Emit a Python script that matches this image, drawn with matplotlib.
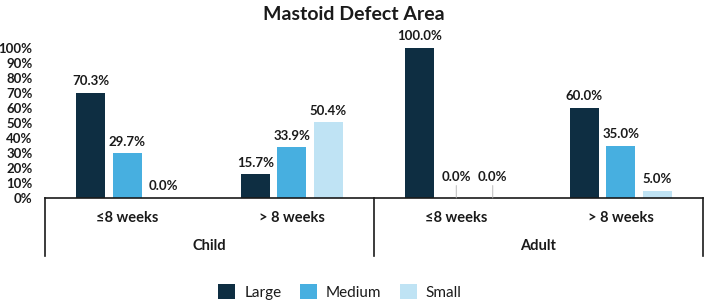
import matplotlib
matplotlib.use("Agg")
import matplotlib.pyplot as plt
import matplotlib.transforms as mtransforms
import numpy as np

plt.rcParams['font.family'] = ['Lato', 'DejaVu Sans']

groups = ["Child", "Adult"]
periods = ["≤8 weeks", "> 8 weeks"]
series = ["Large", "Medium", "Small"]
large = [70.3, 15.7, 100.0, 60.0]
medium = [29.7, 33.9, 0.0, 35.0]
small = [0.0, 50.4, 0.0, 5.0]
yticks = [0, 10, 20, 30, 40, 50, 60, 70, 80, 90, 100]
colors = ["#0e2e42", "#47afe0", "#bfe3f4"]

W, H = 708, 304
fig = plt.figure(figsize=(W / 100, H / 100), dpi=100)
ax = fig.add_axes([45 / W, 1 - 198 / H, (703 - 45) / W, 150 / H])

x = np.arange(len(large))
step = 0.222
bw = 0.175
data = [large, medium, small]
for i, (vals, c, name) in enumerate(zip(data, colors, series)):
    xs = x + (i - 1) * step
    ax.bar(xs, vals, width=bw, color=c, label=name, zorder=2)
    for j, (xx, v) in enumerate(zip(xs, vals)):
        lead = (v == 0 and j == 2)
        if lead:
            ax.annotate(f"{v:.1f}%", xy=(xx, 0), xytext=(0, 11), textcoords="offset points",
                        ha="center", va="bottom", fontsize=9.5, fontweight="bold", color="#1a1a1a",
                        arrowprops=dict(arrowstyle="-", color="#b0b0b0", lw=0.6, shrinkA=0, shrinkB=0))
        else:
            ax.annotate(f"{v:.1f}%", xy=(xx, v), xytext=(0, 4), textcoords="offset points",
                        ha="center", va="bottom", fontsize=9.5, fontweight="bold", color="#1a1a1a")

ax.set_xlim(-0.5, len(large) - 0.5)
ax.set_ylim(0, 100)
ax.set_yticks(yticks)
ax.set_yticklabels([f"{t}%" for t in yticks], fontsize=9.5, fontweight="bold", color="#1a1a1a")
ax.tick_params(axis="y", length=0, pad=9)
ax.set_xticks([])
for s in ["top", "right", "left"]:
    ax.spines[s].set_visible(False)
ax.spines["bottom"].set_color("#1a1a1a")
ax.spines["bottom"].set_linewidth(1.2)

trans = mtransforms.blended_transform_factory(ax.transData, ax.transAxes)
lab_y = -20 / 150
grp_y = -48 / 150
line_y = -58 / 150
for j in range(len(large)):
    ax.text(j, lab_y, periods[j % 2], transform=trans, ha="center", va="center",
            fontsize=10.5, fontweight="bold", color="#1a1a1a")
for g, name in enumerate(groups):
    ax.text(2 * g + 0.5, grp_y, name, transform=trans, ha="center", va="center",
            fontsize=10.5, fontweight="bold", color="#1a1a1a")
for xb in [-0.5, 1.5, 3.5]:
    ax.plot([xb, xb], [0, line_y], transform=trans, color="#1a1a1a", lw=1.2, clip_on=False)

fig.text(354 / W, 1 - 14 / H, "Mastoid Defect Area", ha="center", va="center",
         fontsize=14, fontweight="bold", color="#1a1a1a")

handles, labels = ax.get_legend_handles_labels()
fig.legend(handles, labels, loc="center", bbox_to_anchor=(340 / W, 1 - 292 / H), ncol=3,
           frameon=False, fontsize=11, handlelength=1.1, handleheight=1.1,
           columnspacing=1.2, handletextpad=0.6, labelcolor="#1a1a1a")

fig.savefig("out.png", dpi=100)
